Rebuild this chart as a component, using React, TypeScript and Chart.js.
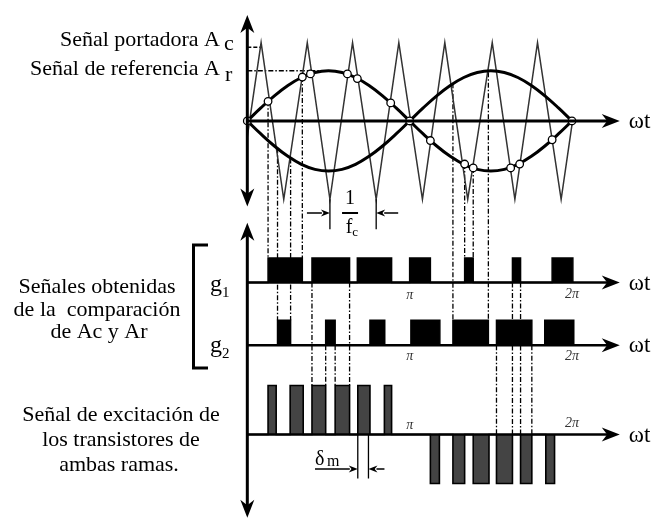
import React, { useEffect, useRef } from "react";
import { Chart, registerables } from "chart.js";
Chart.register(...registerables);

// ---------- DATA (ωt in degrees, amplitudes relative to carrier peak Ac = 1) ----------
const carrierPeaks = [15.3, 66.5, 116.7, 168, 219, 271.6, 321.8];
const carrierTroughs = [40.4, 91.6, 142.9, 194.2, 244.4, 296.7, 348];
const carrierStart = -0.2;
const carrierEnd = -0.05;

const refAngles = [0, 15, 30, 45, 60, 75, 90, 105, 120, 135, 150, 165, 180, 195, 210, 225, 240, 255, 270, 285, 300, 315, 330, 345, 360];
const refValues = [0, 0.166, 0.32, 0.452, 0.554, 0.618, 0.64, 0.618, 0.554, 0.452, 0.32, 0.166, 0, -0.166, -0.32, -0.452, -0.554, -0.618, -0.64, -0.618, -0.554, -0.452, -0.32, -0.166, 0];

const crossAngles = [0, 23, 61, 70, 111, 122, 159, 180, 203, 241, 250.5, 292, 302, 338, 360];
const crossValues = [0, 0.25, 0.56, 0.6, 0.6, 0.54, 0.23, 0, -0.25, -0.55, -0.6, -0.6, -0.55, -0.24, 0];

const g1Starts = [23, 71.7, 122, 180, 241, 294, 338];
const g1Ends = [61, 113.4, 160, 203, 250.5, 303, 361];

const g2Starts = [33.5, 86.9, 136, 181.4, 228, 276.3, 329.8];
const g2Ends = [48, 97.4, 152.4, 213.5, 267.3, 315.5, 362];

const excStarts = [23, 47.5, 71.7, 97.4, 122.5, 152, 203, 228, 250.5, 276.3, 303, 331];
const excEnds = [32, 62, 86.9, 113.4, 136, 160, 213, 241, 268, 294, 315.5, 340.7];
const excSigns = [1, 1, 1, 1, 1, 1, -1, -1, -1, -1, -1, -1];

// guide (dash-dot) lines: angle, start [panel, value], end [panel, value]
const guideAngles = [23, 33.5, 48, 61, 71.7, 86.9, 97.4, 113.4, 228, 241, 250.5, 267.3, 276.3, 294, 303, 315.5];
const guideFrom = [["top", 0.25], ["top", -0.35], ["top", -0.48], ["top", 0.56], ["g1", 0], ["g2", 0], ["g2", 0], ["g1", 0], ["top", 0.48], ["top", -0.55], ["top", -0.6], ["top", 0.62], ["g2", 0], ["g1", 0], ["g1", 0], ["g2", 0]];
const guideTo = [["g1", 1], ["g2", 1], ["g2", 1], ["g1", 1], ["exc", 1], ["exc", 1], ["exc", 1], ["exc", 1], ["g2", 1], ["g1", 1], ["g1", 1], ["g2", 1], ["exc", 0], ["exc", 0], ["exc", 0], ["exc", 0]];

const acLevel = 0.94;
const arLevel = 0.64;

// ---------- LAYOUT ----------
const W = 654;
const H = 528;
const ORIGIN_PX = 246;
const PX_PER_DEG = 165 / 180;
const PANELS: Record<string, { base: number; unit: number }> = {
  top: { base: 118, unit: 80 },
  g1: { base: 283, unit: 25 },
  g2: { base: 347, unit: 25.5 },
  exc: { base: 438, unit: 50 },
};
const SERIF = "'Liberation Serif', 'Times New Roman', serif";

function panelScale(id: string) {
  const p = PANELS[id];
  return { type: "linear", display: false, min: (p.base - H) / p.unit, max: p.base / p.unit };
}

function pulsePoints(starts: number[], ends: number[], signs?: number[]) {
  const pts: { x: number; y: number }[] = [{ x: 0, y: 0 }];
  starts.forEach((s, i) => {
    const h = signs ? signs[i] : 1;
    pts.push({ x: s, y: 0 }, { x: s, y: h }, { x: ends[i], y: h }, { x: ends[i], y: 0 });
  });
  return pts;
}

function arrowHead(ctx: CanvasRenderingContext2D, x: number, y: number, dx: number, dy: number, len = 18, half = 7) {
  const px = -dy, py = dx;
  ctx.beginPath();
  ctx.moveTo(x, y);
  ctx.lineTo(x - dx * len + px * half, y - dy * len + py * half);
  ctx.lineTo(x - dx * len * 0.7, y - dy * len * 0.7);
  ctx.lineTo(x - dx * len - px * half, y - dy * len - py * half);
  ctx.closePath();
  ctx.fill();
}

const deco = {
  id: "deco",
  beforeDatasetsDraw(chart: any) {
    const ctx: CanvasRenderingContext2D = chart.ctx;
    const sx = chart.scales.x;
    const py = (id: string, v: number) => chart.scales[id].getPixelForValue(v);
    ctx.save();
    ctx.strokeStyle = "#000";
    ctx.lineWidth = 1.3;
    ctx.setLineDash([5, 2, 1.5, 2]);
    guideAngles.forEach((a, i) => {
      const f = guideFrom[i] as [string, number];
      const t = guideTo[i] as [string, number];
      const x = sx.getPixelForValue(a);
      ctx.beginPath();
      ctx.moveTo(x, py(f[0], f[1]));
      ctx.lineTo(x, py(t[0], t[1]));
      ctx.stroke();
    });
    // Ar dash-dot
    ctx.beginPath();
    ctx.moveTo(sx.getPixelForValue(0), py("top", arLevel));
    ctx.lineTo(sx.getPixelForValue(85), py("top", arLevel));
    ctx.stroke();
    // Ac dashed
    ctx.setLineDash([4, 2]);
    ctx.beginPath();
    ctx.moveTo(sx.getPixelForValue(0), py("top", acLevel));
    ctx.lineTo(sx.getPixelForValue(carrierPeaks[0]), py("top", acLevel));
    ctx.stroke();
    ctx.restore();
  },
  afterDatasetsDraw(chart: any) {
    const ctx: CanvasRenderingContext2D = chart.ctx;
    const sx = chart.scales.x;
    const py = (id: string, v: number) => chart.scales[id].getPixelForValue(v);
    const x0 = sx.getPixelForValue(0);
    const xEnd = sx.getPixelForValue(413);
    ctx.save();
    ctx.fillStyle = "#000";
    ctx.strokeStyle = "#000";
    ctx.setLineDash([]);
    ctx.lineWidth = 3;
    // vertical axes
    const topA = py("top", 1.35), topB = py("top", -1.09);
    ctx.beginPath(); ctx.moveTo(x0, topA + 10); ctx.lineTo(x0, topB - 10); ctx.stroke();
    arrowHead(ctx, x0, topA, 0, -1);
    arrowHead(ctx, x0, topB, 0, 1);
    const lowA = py("g1", 2.44), lowB = py("exc", -1.7);
    ctx.beginPath(); ctx.moveTo(x0, lowA + 10); ctx.lineTo(x0, lowB - 10); ctx.stroke();
    arrowHead(ctx, x0, lowA, 0, -1);
    arrowHead(ctx, x0, lowB, 0, 1);
    // horizontal axes
    ["top", "g1", "g2", "exc"].forEach((id) => {
      const y = py(id, 0);
      ctx.lineWidth = id === "top" ? 3 : 2.5;
      ctx.beginPath(); ctx.moveTo(x0, y); ctx.lineTo(xEnd - 10, y); ctx.stroke();
      arrowHead(ctx, xEnd, y, 1, 0);
      ctx.font = `23px ${SERIF}`;
      ctx.textAlign = "left";
      ctx.textBaseline = "middle";
      ctx.fillText("ωt", xEnd + 9, y + 1);
    });
    // pi labels
    ctx.fillStyle = "#333";
    ctx.font = `italic 14px ${SERIF}`;
    ctx.textAlign = "center";
    ctx.textBaseline = "middle";
    const piX = sx.getPixelForValue(180), pi2X = sx.getPixelForValue(360);
    [["g1", 13, 12], ["g2", 11, 11], ["exc", -9, -11]].forEach(([id, d1, d2]: any) => {
      const y = py(id, 0);
      ctx.fillText("π", piX, y + d1);
      ctx.fillText("2π", pi2X, y + d2);
    });
    ctx.fillStyle = "#000";
    // left labels
    ctx.font = `22px ${SERIF}`;
    ctx.textBaseline = "alphabetic";
    ctx.textAlign = "right";
    ctx.fillText("Señal portadora A", 220, 46);
    ctx.fillText("Señal de referencia A", 220, 75);
    ctx.textAlign = "left";
    ctx.fillText("c", 224, 50);
    ctx.fillText("r", 225, 81);
    ctx.textAlign = "center";
    ctx.fillText("Señales obtenidas", 97, 293);
    ctx.fillText("de la  comparación", 97, 315.5);
    ctx.fillText("de Ac y Ar", 99, 338);
    ctx.fillText("Señal de excitación de", 121, 421);
    ctx.fillText("los transistores de", 121, 446);
    ctx.fillText("ambas ramas.", 119, 471);
    // bracket
    ctx.lineWidth = 3;
    ctx.beginPath();
    ctx.moveTo(208, 245); ctx.lineTo(193.5, 245); ctx.lineTo(193.5, 368); ctx.lineTo(208, 368);
    ctx.stroke();
    // g1 / g2
    ctx.textAlign = "left";
    ctx.font = `24px ${SERIF}`;
    ctx.fillText("g", 210, 291);
    ctx.fillText("g", 210, 352);
    ctx.font = `15px ${SERIF}`;
    ctx.fillText("1", 222, 297);
    ctx.fillText("2", 222, 358);
    // 1/fc annotation
    const t1 = sx.getPixelForValue(carrierTroughs[1]);
    const t2 = sx.getPixelForValue(carrierTroughs[2]);
    const yt = py("top", -1);
    ctx.lineWidth = 1.3;
    ctx.beginPath();
    ctx.moveTo(t1, yt); ctx.lineTo(t1, yt + 30);
    ctx.moveTo(t2, yt); ctx.lineTo(t2, yt + 30);
    ctx.moveTo(t1 - 23, 213); ctx.lineTo(t1 - 8, 213);
    ctx.moveTo(t2 + 22, 213); ctx.lineTo(t2 + 8, 213);
    ctx.stroke();
    arrowHead(ctx, t1, 213, 1, 0, 9, 3.5);
    arrowHead(ctx, t2, 213, -1, 0, 9, 3.5);
    const fx = (t1 + t2) / 2;
    ctx.font = `20px ${SERIF}`;
    ctx.textAlign = "center";
    ctx.fillText("1", fx - 3, 204);
    ctx.lineWidth = 2;
    ctx.beginPath(); ctx.moveTo(fx - 11, 213); ctx.lineTo(fx + 5, 213); ctx.stroke();
    ctx.fillText("f", fx - 4, 233);
    ctx.font = `13px ${SERIF}`;
    ctx.fillText("c", fx + 2, 236);
    // delta m annotation
    const d1 = sx.getPixelForValue(excStarts[4]);
    const d2 = sx.getPixelForValue(excEnds[4]) - 1.5;
    const yb = py("exc", 0);
    ctx.lineWidth = 1.3;
    ctx.beginPath();
    ctx.moveTo(d1, yb); ctx.lineTo(d1, yb + 44);
    ctx.moveTo(d2, yb); ctx.lineTo(d2, yb + 44);
    ctx.moveTo(315, 469); ctx.lineTo(d1 - 8, 469);
    ctx.moveTo(d2 + 16, 469); ctx.lineTo(d2 + 8, 469);
    ctx.stroke();
    arrowHead(ctx, d1, 469, 1, 0, 9, 3.5);
    arrowHead(ctx, d2, 469, -1, 0, 9, 3.5);
    ctx.textAlign = "left";
    ctx.font = `20px ${SERIF}`;
    ctx.fillText("δ", 315, 465);
    ctx.font = `16px ${SERIF}`;
    ctx.fillText("m", 327, 466);
    ctx.restore();
  },
};

export default function App() {
  const ref = useRef<HTMLCanvasElement>(null);
  useEffect(() => {
    if (!ref.current) return;
    const carrier = [{ x: 0, y: carrierStart }];
    const ext = [
      ...carrierPeaks.map((x) => ({ x, y: 1 })),
      ...carrierTroughs.map((x) => ({ x, y: -1 })),
    ].sort((a, b) => a.x - b.x);
    carrier.push(...ext, { x: 360, y: carrierEnd });
    const refPos = refAngles.map((x, i) => ({ x, y: refValues[i] }));
    const refNeg = refAngles.map((x, i) => ({ x, y: -refValues[i] }));
    const crosses = crossAngles.map((x, i) => ({ x, y: crossValues[i] }));

    const chart = new Chart(ref.current, {
      type: "line",
      data: {
        datasets: [
          { data: crosses, yAxisID: "top", showLine: false, pointRadius: 3.8, pointBorderWidth: 1.3, pointBackgroundColor: "#fff", pointBorderColor: "#000", order: 0 } as any,
          { data: refPos, yAxisID: "top", borderColor: "#000", borderWidth: 3, pointRadius: 0, tension: 0.4, fill: false, order: 1 },
          { data: refNeg, yAxisID: "top", borderColor: "#000", borderWidth: 3, pointRadius: 0, tension: 0.4, fill: false, order: 1 },
          { data: carrier, yAxisID: "top", borderColor: "#333", borderWidth: 1.5, pointRadius: 0, tension: 0, fill: false, order: 2 },
          { data: pulsePoints(g1Starts, g1Ends), yAxisID: "g1", borderColor: "#000", backgroundColor: "#000", borderWidth: 1.5, pointRadius: 0, tension: 0, fill: "origin", order: 3 },
          { data: pulsePoints(g2Starts, g2Ends), yAxisID: "g2", borderColor: "#000", backgroundColor: "#000", borderWidth: 1.5, pointRadius: 0, tension: 0, fill: "origin", order: 3 },
          { data: pulsePoints(excStarts, excEnds, excSigns), yAxisID: "exc", borderColor: "#000", backgroundColor: "#444", borderWidth: 1.6, pointRadius: 0, tension: 0, fill: "origin", order: 3 },
        ],
      },
      options: {
        responsive: false,
        animation: false,
        events: [],
        layout: { padding: 0 },
        plugins: { legend: { display: false }, tooltip: { enabled: false }, title: { display: false } },
        scales: {
          x: { type: "linear", display: false, min: -ORIGIN_PX / PX_PER_DEG, max: (W - ORIGIN_PX) / PX_PER_DEG },
          top: panelScale("top") as any,
          g1: panelScale("g1") as any,
          g2: panelScale("g2") as any,
          exc: panelScale("exc") as any,
        },
      },
      plugins: [deco],
    });
    return () => chart.destroy();
  }, []);
  return (
    <div style={{ position: "fixed", left: 0, top: 0, width: W, height: H, background: "#fff" }}>
      <canvas ref={ref} width={W} height={H} style={{ display: "block" }} />
    </div>
  );
}
